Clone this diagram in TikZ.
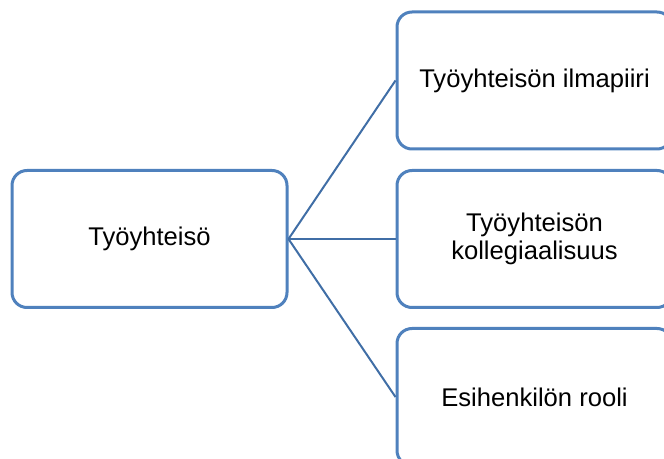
\documentclass[tikz,border=0pt]{standalone}
\usepackage{fontspec}
\setmainfont{Liberation Sans}
\definecolor{boxblue}{RGB}{79,129,189}
\definecolor{linkblue}{RGB}{64,110,166}

\begin{document}
\begin{tikzpicture}[x=0.5pt, y=-0.5pt,
  topic/.style={draw=boxblue, line width=1.5pt, rounded corners=7.5pt, fill=white,
    minimum width=137.5pt, minimum height=68.5pt, align=center,
    font=\fontsize{12.8pt}{13.8pt}\selectfont},
  link/.style={draw=linkblue, line width=1pt}]
\clip (0, 0) rectangle (664, 459);
\useasboundingbox (0, 0) rectangle (664, 459);
%Root
\node[topic] (root) at (149.5, 239) {Työyhteisö};
%Branches
\node[topic] (ilma) at (534.5, 80.5) {Työyhteisön ilmapiiri};
\node[topic] (koll) at (534.5, 239) {Työyhteisön\\kollegiaalisuus};
\node[topic] (esih) at (534.5, 397) {Esihenkilön rooli};
\draw[link] (root.east) -- (ilma.west);
\draw[link] (root.east) -- (koll.west);
\draw[link] (root.east) -- (esih.west);
\end{tikzpicture}
\end{document}
